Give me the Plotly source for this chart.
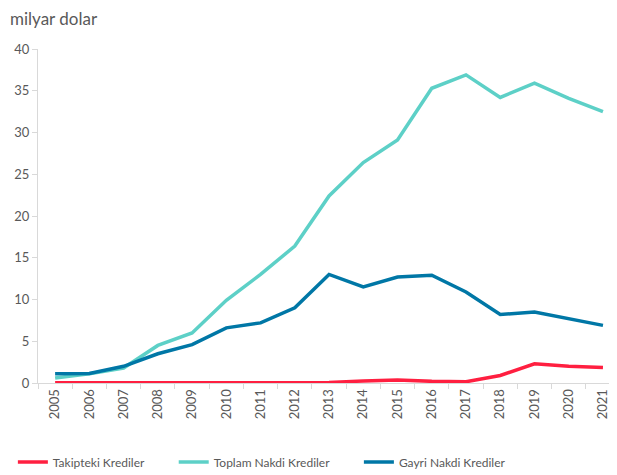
import plotly.graph_objects as go

years = [str(y) for y in range(2005, 2022)]

takipteki = [0.02, 0.02, 0.02, 0.02, 0.03, 0.05, 0.03, 0.05, 0.05, 0.25, 0.35, 0.2, 0.15, 0.9, 2.3, 2.0, 1.85]
toplam_nakdi = [0.6, 1.1, 1.8, 4.5, 6.0, 9.9, 13.0, 16.4, 22.4, 26.4, 29.1, 35.3, 36.9, 34.2, 35.9, 34.1, 32.5]
gayri_nakdi = [1.1, 1.15, 2.0, 3.5, 4.6, 6.6, 7.2, 9.0, 13.0, 11.5, 12.7, 12.9, 10.9, 8.2, 8.5, 7.7, 6.9]

grey = "#595959"
pad = "\u00a0" * 8  # extra room between legend entries

fig = go.Figure()
fig.add_trace(go.Scatter(x=years, y=takipteki, name="Takipteki Krediler" + pad,
                         mode="lines", line=dict(color="#FF1F40", width=3.5)))
fig.add_trace(go.Scatter(x=years, y=toplam_nakdi, name="Toplam Nakdi Krediler" + pad,
                         mode="lines", line=dict(color="#5DD0C7", width=3.5)))
fig.add_trace(go.Scatter(x=years, y=gayri_nakdi, name="Gayri Nakdi Krediler",
                         mode="lines", line=dict(color="#0077A6", width=3.5)))

# page body has an 8px margin, so the figure is a bit smaller than the window
fig.update_layout(
    width=609, height=467,
    margin=dict(l=30, r=0, t=41, b=92, autoexpand=False),
    plot_bgcolor="white", paper_bgcolor="white",
    font=dict(family="Lato, Open Sans, sans-serif", size=13, color=grey),
    showlegend=True,
    legend=dict(orientation="h", xref="container", yref="container",
                x=0.008, xanchor="left", y=0.028, yanchor="middle",
                font=dict(size=12, color=grey), tracegroupgap=0),
    annotations=[dict(text="milyar dolar", xref="paper", yref="paper",
                      x=-0.0518, y=1.092, xanchor="left", yanchor="middle",
                      showarrow=False, font=dict(size=17, color=grey))],
)

fig.update_xaxes(type="category", range=[-0.5, 16.41], tickangle=-90, automargin=False,
                 showline=True, linecolor="#D9D9D9", linewidth=1,
                 ticks="outside", tickson="boundaries", ticklen=5, tickcolor="#D9D9D9",
                 showgrid=False, zeroline=False)
fig.update_yaxes(range=[0, 40], dtick=5, automargin=False,
                 showline=True, linecolor="#D9D9D9", linewidth=1,
                 ticks="outside", ticklen=5, tickcolor="#D9D9D9",
                 showgrid=False, zeroline=False)

fig.write_html("out.html")
